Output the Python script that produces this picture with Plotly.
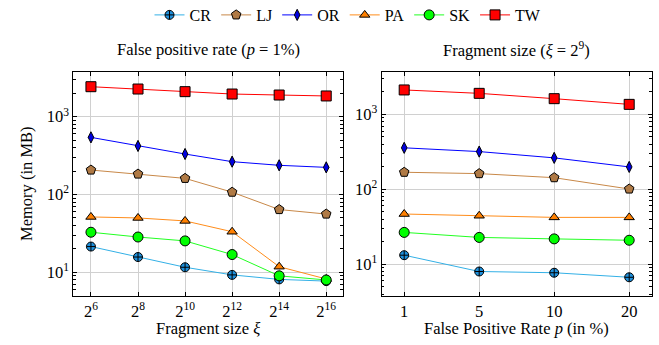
import plotly.graph_objects as go

# ---- data ----
series = ["CR", "LJ", "OR", "PA", "SK", "TW"]

frag_exp = [6, 8, 10, 12, 14, 16]
frag_ticks = ["2<sup>6</sup>", "2<sup>8</sup>", "2<sup>10</sup>", "2<sup>12</sup>", "2<sup>14</sup>", "2<sup>16</sup>"]
left_CR = [21.4, 15.7, 11.6, 9.25, 8.1, 7.7]
left_LJ = [206, 183, 161, 107, 64, 56]
left_OR = [542, 420, 331, 264, 237, 223]
left_PA = [51.4, 49.9, 45.7, 33.2, 11.8, 8.2]
left_SK = [32.7, 28.4, 25.3, 16.9, 9.0, 7.96]
left_TW = [2427, 2265, 2096, 1954, 1897, 1845]

fpr_labels = ["1", "5", "10", "20"]
right_CR = [13.2, 8.0, 7.7, 6.7]
right_LJ = [169, 162, 143, 101]
right_OR = [358, 319, 263, 199]
right_PA = [46.8, 44.4, 42.2, 42.2]
right_SK = [26.6, 22.8, 21.8, 20.9]
right_TW = [2120, 1910, 1622, 1361]

y_tickvals = [10, 100, 1000]
y_ticktext = ["10<sup>1</sup>", "10<sup>2</sup>", "10<sup>3</sup>"]

left_data = {"CR": left_CR, "LJ": left_LJ, "OR": left_OR, "PA": left_PA, "SK": left_SK, "TW": left_TW}
right_data = {"CR": right_CR, "LJ": right_LJ, "OR": right_OR, "PA": right_PA, "SK": right_SK, "TW": right_TW}

# ---- styles ----
style = {
    "CR": dict(line="#33B0E6", fill="#1E90DC", symbol="circle-cross", size=9),
    "LJ": dict(line="#C88848", fill="#B07A45", symbol="pentagon", size=10),
    "OR": dict(line="#0000FF", fill="#0000E0", symbol="diamond-tall", size=8),
    "PA": dict(line="#FF8C1A", fill="#FF8000", symbol="triangle-up", size=9),
    "SK": dict(line="#22FF22", fill="#00FF00", symbol="circle", size=10),
    "TW": dict(line="#FF0000", fill="#FF0000", symbol="square", size=10),
}

W, H = 659, 345


def px(x):
    return x / W


def py(y):
    return 1 - y / H


FONT = "Times New Roman, Liberation Serif, Tinos, DejaVu Serif, serif"
fig = go.Figure()

for name in series:
    s = style[name]
    fig.add_trace(go.Scatter(
        x=frag_exp, y=left_data[name], name=name, mode="lines+markers",
        line=dict(color=s["line"], width=1),
        marker=dict(symbol=s["symbol"], size=s["size"], color=s["fill"],
                    line=dict(color="black", width=1)),
        xaxis="x", yaxis="y", legendgroup=name, showlegend=True,
    ))
for name in series:
    s = style[name]
    fig.add_trace(go.Scatter(
        x=fpr_labels, y=right_data[name], name=name, mode="lines+markers",
        line=dict(color=s["line"], width=1),
        marker=dict(symbol=s["symbol"], size=s["size"], color=s["fill"],
                    line=dict(color="black", width=1)),
        xaxis="x2", yaxis="y2", legendgroup=name, showlegend=False,
    ))

minor_vals = [m * 10 ** e for e in range(0, 4) for m in range(2, 10)]

common_axis = dict(
    showline=True, linecolor="black", linewidth=1, mirror="allticks",
    ticks="inside", ticklen=4, tickcolor="black",
    showgrid=True, gridcolor="#d0d0d0", gridwidth=1, zeroline=False,
    tickfont=dict(family=FONT, size=16.5, color="black"),
)

yaxis_common = dict(
    common_axis, type="log", tickmode="array", tickvals=y_tickvals, ticktext=y_ticktext,
    minor=dict(ticks="inside", ticklen=2.5, tickcolor="black", tickmode="array",
               tickvals=minor_vals, showgrid=False),
)

ydom = [py(296), py(72)]
fig.update_layout(
    width=W, height=H,
    margin=dict(l=0, r=0, t=0, b=0, autoexpand=False),
    paper_bgcolor="white", plot_bgcolor="white",
    font=dict(family=FONT, size=16, color="black"),
    xaxis=dict(common_axis, domain=[px(73.3), px(342.7)], range=[5.25, 16.7],
               tickmode="array", tickvals=frag_exp, ticktext=frag_ticks, anchor="y"),
    yaxis=dict(yaxis_common, domain=ydom, range=[0.695, 3.574], anchor="x"),
    xaxis2=dict(common_axis, domain=[px(381.7), px(651.7)], range=[-0.3, 3.3],
                type="category", anchor="y2"),
    yaxis2=dict(yaxis_common, domain=ydom, range=[0.576, 3.566], anchor="x2"),
    legend=dict(orientation="h", x=px(348), xanchor="center", y=py(15), yanchor="middle",
                font=dict(family=FONT, size=16), itemwidth=30, tracegroupgap=0,
                bgcolor="rgba(0,0,0,0)"),
    showlegend=True,
)

annotations = [
    dict(text="False positive rate (<i>p</i> = 1%)", x=px(208), y=py(49)),
    dict(text="Fragment size (<i>ξ</i> = 2<sup>9</sup>)", x=px(516.7), y=py(49)),
    dict(text="Fragment size <i>ξ</i>", x=px(208), y=py(328)),
    dict(text="False Positive Rate <i>p</i> (in %)", x=px(516.7), y=py(328)),
]
for a in annotations:
    fig.add_annotation(xref="paper", yref="paper", xanchor="center", yanchor="middle",
                       showarrow=False, font=dict(family=FONT, size=16.5, color="black"), **a)
fig.add_annotation(text="Memory (in MB)", xref="paper", yref="paper", x=px(26), y=py(184),
                   textangle=-90, showarrow=False, xanchor="center", yanchor="middle",
                   font=dict(family=FONT, size=16.5, color="black"))

fig.write_html("out.html", config={"displayModeBar": False},
               post_script="document.body.style.margin='0';")
